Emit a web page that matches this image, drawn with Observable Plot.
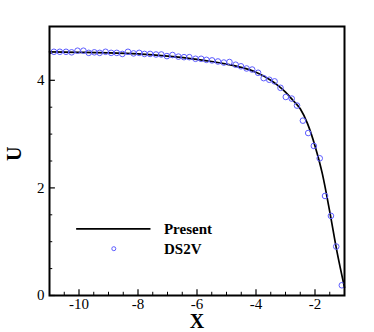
<!DOCTYPE html>
<html>
<head>
<meta charset="utf-8">
<script src="https://cdn.jsdelivr.net/npm/d3@7"></script>
<script src="https://cdn.jsdelivr.net/npm/@observablehq/plot@0.6"></script>
<style>
  html, body { margin: 0; padding: 0; background: white; }
</style>
</head>
<body>
<div id="chart"></div>
<script>
// "Present" solution (solid line)
const presentX = [-11, -10, -9, -8, -7, -6, -5.5, -5, -4.5, -4, -3.5, -3.25, -3, -2.75, -2.5, -2.25, -2, -1.75, -1.5, -1.25, -1.0];
const presentU = [4.53, 4.52, 4.51, 4.49, 4.45, 4.39, 4.35, 4.30, 4.24, 4.15, 4.0, 3.90, 3.78, 3.63, 3.47, 3.19, 2.78, 2.26, 1.56, 0.80, 0.15];

// DS2V (open circles)
const ds2vX = [-10.85, -10.65, -10.44, -10.25, -10.05, -9.85, -9.67, -9.48, -9.30, -9.10,
  -8.91, -8.72, -8.53, -8.34, -8.15, -7.96, -7.78, -7.59, -7.39, -7.21,
  -7.02, -6.83, -6.63, -6.44, -6.26, -6.05, -5.86, -5.68, -5.49, -5.29,
  -5.09, -4.90, -4.69, -4.51, -4.32, -4.13, -3.93, -3.74, -3.55, -3.37,
  -3.17, -2.99, -2.79, -2.61, -2.41, -2.23, -2.04, -1.84, -1.66, -1.46,
  -1.28, -1.09];
const ds2vU = [4.53, 4.53, 4.53, 4.52, 4.55, 4.55, 4.51, 4.52, 4.51, 4.53,
  4.51, 4.51, 4.49, 4.53, 4.50, 4.51, 4.49, 4.49, 4.48, 4.48,
  4.45, 4.47, 4.44, 4.43, 4.43, 4.40, 4.40, 4.38, 4.37, 4.35,
  4.33, 4.34, 4.29, 4.26, 4.22, 4.20, 4.14, 4.04, 4.01, 3.98,
  3.86, 3.69, 3.66, 3.53, 3.25, 3.02, 2.78, 2.55, 1.85, 1.48,
  0.91, 0.19];

// Ticks
const xTicks = [-10, -8, -6, -4, -2];
const xMinor = [-10.5, -9.5, -9, -8.5, -7.5, -7, -6.5, -5.5, -5, -4.5, -3.5, -3, -2.5, -1.5];
const yTicks = [0, 2, 4];
const yMinor = [0.5, 1, 1.5, 2.5, 3, 3.5, 4.5];

// Legend labels
const seriesNames = ["Present", "DS2V"];

const present = presentX.map((x, i) => ({x, u: presentU[i]}));
const ds2v = ds2vX.map((x, i) => ({x, u: ds2vU[i]}));

const dotColor = "#5c5cff";
const serif = "'Liberation Serif', 'Times New Roman', serif";

const chart = Plot.plot({
  width: 374,
  height: 332,
  marginLeft: 49,
  marginRight: 30,
  marginTop: 26,
  marginBottom: 37,
  x: {domain: [-11, -1]},
  y: {domain: [0, 5]},
  style: {fontFamily: serif, background: "white", color: "black"},
  marks: [
    Plot.axisX({ticks: xTicks, tickSize: 0, tickPadding: 3, fontSize: 15, fontFamily: serif, tickFormat: d => String(d), label: null}),
    Plot.axisY({ticks: yTicks, tickSize: 0, tickPadding: 5, fontSize: 15, fontFamily: serif, tickFormat: d => String(d), label: null}),
    // inward ticks
    Plot.ruleX(xTicks, {x: d => d, y1: 0, y2: 0.105, stroke: "black", strokeWidth: 1.2}),
    Plot.ruleX(xMinor, {x: d => d, y1: 0, y2: 0.06, stroke: "black", strokeWidth: 1}),
    Plot.ruleY(yTicks, {y: d => d, x1: -11, x2: -10.8, stroke: "black", strokeWidth: 1.2}),
    Plot.ruleY(yMinor, {y: d => d, x1: -11, x2: -10.89, stroke: "black", strokeWidth: 1}),
    // data
    Plot.line(present, {x: "x", y: "u", stroke: "black", strokeWidth: 1.7, curve: "monotone-x"}),
    Plot.dot(ds2v, {x: "x", y: "u", r: 2.8, stroke: dotColor, strokeWidth: 1, fill: "none"}),
    Plot.frame({stroke: "black", strokeWidth: 2}),
    // axis titles
    Plot.text(["X"], {text: d => d, frameAnchor: "bottom", dy: 26, lineAnchor: "middle", fontSize: 20, fontWeight: "bold", fontFamily: serif}),
    Plot.text(["U"], {text: d => d, frameAnchor: "left", dx: -35, rotate: -90, fontSize: 20, fontWeight: "bold", fontFamily: serif}),
    // legend
    Plot.ruleY([1.24], {y: d => d, x1: -10.08, x2: -7.56, stroke: "black", strokeWidth: 1.7}),
    Plot.dot([0.87], {x: -8.82, y: d => d, r: 2, stroke: dotColor, strokeWidth: 1, fill: "none"}),
    Plot.text([seriesNames[0]], {x: -7.12, y: 1.24, text: d => d, textAnchor: "start", fontSize: 15, fontWeight: "bold", fontFamily: serif}),
    Plot.text([seriesNames[1]], {x: -7.12, y: 0.87, text: d => d, textAnchor: "start", fontSize: 15, fontWeight: "bold", fontFamily: serif})
  ]
});

document.getElementById("chart").appendChild(chart);
</script>
</body>
</html>
